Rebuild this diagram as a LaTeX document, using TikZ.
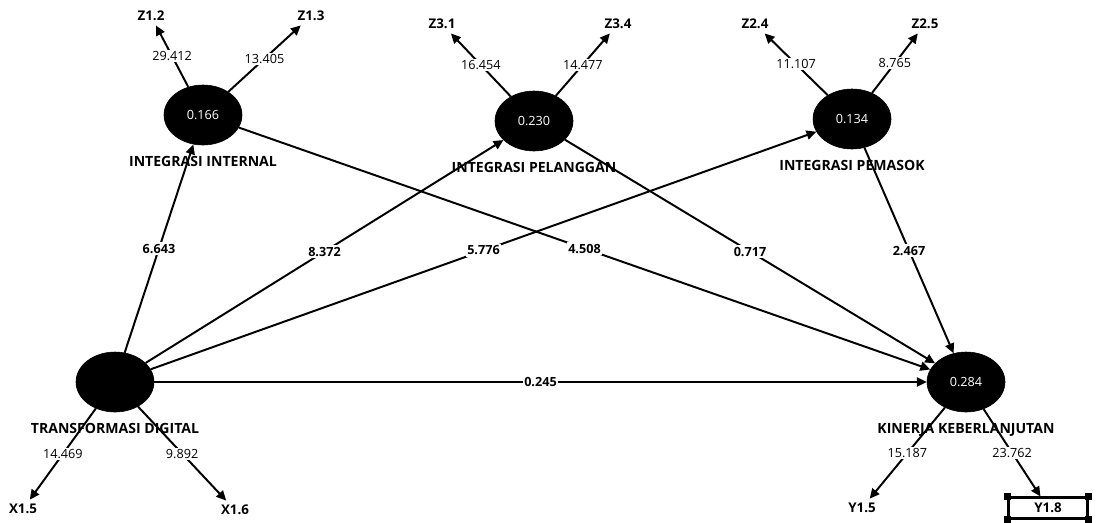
\documentclass[tikz,border=0pt]{standalone}
\usepackage{fontspec}
\setmainfont{Open Sans}
\usetikzlibrary{arrows.meta,positioning,shapes.geometric}
\tikzset{
  latent/.style = {ellipse, fill=black, draw=black, minimum width=1.95cm,
                   minimum height=1.5cm, inner sep=0pt, text=white,
                   font=\fontsize{9}{10}\selectfont},
  lvname/.style = {font=\fontsize{10}{11}\selectfont\bfseries, inner sep=1pt},
  ind/.style    = {font=\fontsize{9.5}{10}\selectfont\bfseries, inner sep=3pt},
  indbox/.style = {ind, draw, line width=1.5pt, minimum width=1.975cm,
                   minimum height=0.525cm, inner sep=0pt},
  ar/.style     = {-{Triangle[length=7pt,width=6.5pt]}, line width=1.4pt},
  coef/.style   = {font=\fontsize{9}{10}\selectfont\bfseries, fill=white, inner sep=1pt},
  load/.style   = {font=\fontsize{9}{10}\selectfont, fill=white, inner sep=1pt},
}
\begin{document}
\begin{tikzpicture}[x=0.025cm, y=-0.025cm]
    \useasboundingbox (0,0) rectangle (1097,522);

    % latent variables
    \node[latent] (ii)  at (203,115) {0.166};
    \node[latent] (ip)  at (534,121) {0.230};
    \node[latent] (ipm) at (852,119) {0.134};
    \node[latent] (td)  at (115,382) {};
    \node[latent] (kk)  at (966,382) {0.284};

    \node[lvname, below=2.4mm of ii]  (ii-name)  {INTEGRASI INTERNAL};
    \node[lvname, below=2.4mm of ip]  (ip-name)  {INTEGRASI PELANGGAN};
    \node[lvname, below=2.4mm of ipm] (ipm-name) {INTEGRASI PEMASOK};
    \node[lvname, below=2.4mm of td]  (td-name)  {TRANSFORMASI DIGITAL};
    \node[lvname, below=2.4mm of kk]  (kk-name)  {KINERJA KEBERLANJUTAN};

    % indicators
    \node[ind] (z12) at (151,16)  {Z1.2};
    \node[ind] (z13) at (311,16)  {Z1.3};
    \node[ind] (z31) at (442,24)  {Z3.1};
    \node[ind] (z34) at (618,24)  {Z3.4};
    \node[ind] (z24) at (755,24)  {Z2.4};
    \node[ind] (z25) at (925,24)  {Z2.5};
    \node[ind] (x15) at (23,509)  {X1.5};
    \node[ind] (x16) at (235,510) {X1.6};
    \node[ind] (y15) at (862,508) {Y1.5};
    \node[indbox] (y18) at (1048,508) {Y1.8};
    \foreach \c in {north west,north east,south west,south east}
      \fill ([shift={(-3.5,-3.5)}]y18.\c) rectangle ++(7,7);

    % inner model
    \draw[ar] (td)  -- node[coef] {6.643} (ii);
    \draw[ar] (td)  -- node[coef] {8.372} (ip);
    \draw[ar] (td)  -- node[coef] {5.776} (ipm);
    \draw[ar] (td)  -- node[coef] {0.245} (kk);
    \draw[ar] (ii)  -- node[coef] {4.508} (kk);
    \draw[ar] (ip)  -- node[coef] {0.717} (kk);
    \draw[ar] (ipm) -- node[coef] {2.467} (kk);

    % outer loadings
    \foreach \lv/\ind/\val in {ii/z12/29.412, ii/z13/13.405,
                               ip/z31/16.454, ip/z34/14.477,
                               ipm/z24/11.107, ipm/z25/8.765,
                               td/x15/14.469, td/x16/9.892,
                               kk/y15/15.187, kk/y18/23.762}
      \draw[ar] (\lv) -- node[load] {\val} (\ind);
\end{tikzpicture}
\end{document}
